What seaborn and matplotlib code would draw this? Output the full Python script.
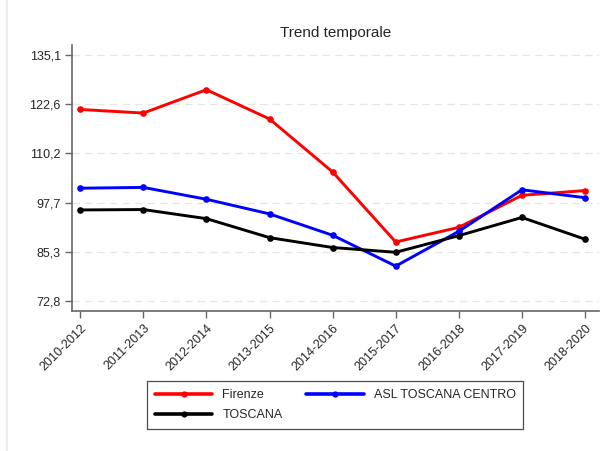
import numpy as np
import pandas as pd
import matplotlib
matplotlib.use("Agg")
import matplotlib.pyplot as plt
import seaborn as sns
from matplotlib.lines import Line2D

# Data
periods = ["2010-2012", "2011-2013", "2012-2014", "2013-2015", "2014-2016",
           "2015-2017", "2016-2018", "2017-2019", "2018-2020"]
firenze = [121.3, 120.4, 126.3, 118.9, 105.5, 87.8, 91.5, 99.6, 100.8]
asl_centro = [101.4, 101.6, 98.6, 94.9, 89.5, 81.7, 90.5, 101.0, 99.0]
toscana = [95.9, 96.0, 93.7, 88.9, 86.4, 85.2, 89.4, 94.0, 88.5]
y_ticks = [72.8, 85.3, 97.7, 110.2, 122.6, 135.1]
y_tick_labels = ["72,8", "85,3", "97,7", "110,2", "122,6", "135,1"]

series_names = ["Firenze", "ASL TOSCANA CENTRO", "TOSCANA"]
colors = {"Firenze": "#ff0000", "ASL TOSCANA CENTRO": "#0000ff", "TOSCANA": "#000000"}

df = pd.DataFrame({
    "periodo": periods * 3,
    "x": list(range(len(periods))) * 3,
    "valore": firenze + asl_centro + toscana,
    "area": [n for n in series_names for _ in periods],
})

sns.set_style("white")
plt.rcParams["font.family"] = ["Liberation Sans", "DejaVu Sans"]

fig = plt.figure(figsize=(6.13, 4.51), dpi=100)
ax = fig.add_axes([0.1175, 0.3104, 0.8595, 0.5898])

sns.lineplot(data=df, x="x", y="valore", hue="area", hue_order=series_names,
             palette=colors, marker="o", markersize=4.8, markeredgewidth=0,
             linewidth=2.1, ax=ax, legend=False)

ax.set_xlim(-0.13, 8.22)
ax.set_ylim(70.35, 137.6)
ax.set_xticks(range(len(periods)))
ax.set_xticklabels(periods, rotation=45, ha="right", rotation_mode="anchor", fontsize=9)
ax.set_yticks(y_ticks)
ax.set_yticklabels(y_tick_labels, fontsize=9)
ax.set_xlabel("")
ax.set_ylabel("")
ax.set_title("Trend temporale", fontsize=11, pad=6)

ax.yaxis.grid(True, linestyle=(0, (6, 4)), color="#e6e6e6", linewidth=0.9)
ax.xaxis.grid(False)
for side in ["top", "right"]:
    ax.spines[side].set_visible(False)
for side in ["left", "bottom"]:
    ax.spines[side].set_color("#666666")
    ax.spines[side].set_linewidth(1.2)
ax.tick_params(axis="both", direction="out", length=5, width=1, color="#666666",
               left=True, bottom=True, pad=3)

handles = {n: Line2D([], [], color=colors[n], linewidth=2.6, marker="o", markersize=4.5,
                     markeredgewidth=0) for n in series_names}
order = ["Firenze", "TOSCANA", "ASL TOSCANA CENTRO"]
leg = fig.legend([handles[n] for n in order], order, ncol=2, loc="center",
                 bbox_to_anchor=(0.547, 0.102), fontsize=9, frameon=True,
                 fancybox=False, edgecolor="#222222", handlelength=4.6,
                 columnspacing=1.9, handletextpad=0.8, borderpad=0.6,
                 labelspacing=0.65)
leg.get_frame().set_linewidth(0.9)

# faint frame line at left edge, as in the reference
fig.add_artist(Line2D([0.0115, 0.0115], [0.0, 1.0], color="#e8edf2", linewidth=1.5,
                      transform=fig.transFigure))

fig.savefig("out.png", dpi=100)
